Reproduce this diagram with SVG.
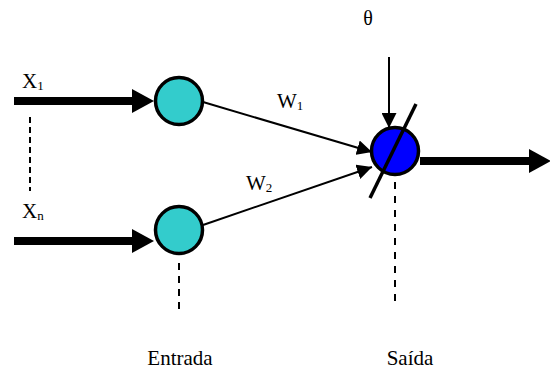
<svg xmlns="http://www.w3.org/2000/svg" width="550" height="369" viewBox="0 0 550 369">
<style>
  .lbl { font-family: "Liberation Serif", "Times New Roman", serif; fill: #000; }
  .thick { stroke: #000; stroke-width: 8; fill: none; }
  .thin { stroke: #000; stroke-width: 2; fill: none; }
  .dash { stroke: #000; stroke-width: 2; fill: none; }
  .inode { fill: #33CCCC; stroke: #000; stroke-width: 3.5; }
  .onode { fill: #0000FF; stroke: #000; stroke-width: 3.5; }
</style>
<defs>
  <marker id="bigHead" markerUnits="userSpaceOnUse" markerWidth="22" markerHeight="24" refX="0" refY="12" orient="auto">
    <path d="M0,0 L22,12 L0,24 Z" fill="#000"/>
  </marker>
  <marker id="smallHead" markerUnits="userSpaceOnUse" markerWidth="15" markerHeight="15" refX="15" refY="7.5" orient="auto">
    <path d="M0,0 L15,7.5 L0,15 Z" fill="#000"/>
  </marker>
</defs>
<rect width="550" height="369" fill="#fff"/>
<g id="connectors">
  <line class="thick" x1="14" y1="101" x2="132" y2="101" marker-end="url(#bigHead)"/>
  <line class="thick" x1="14" y1="241" x2="132" y2="241" marker-end="url(#bigHead)"/>
  <line class="thin" x1="203" y1="102" x2="372" y2="152" marker-end="url(#smallHead)"/>
  <line class="thin" x1="203" y1="225" x2="372" y2="167" marker-end="url(#smallHead)"/>
  <line class="thin" x1="389" y1="57" x2="389" y2="128" marker-end="url(#smallHead)"/>
  <line class="thick" x1="420" y1="161" x2="529" y2="161" marker-end="url(#bigHead)"/>
  <line class="dash" x1="30" y1="117" x2="30" y2="191" stroke-dasharray="6 4"/>
  <line class="dash" x1="179" y1="263" x2="179" y2="313" stroke-dasharray="7 6"/>
  <line class="dash" x1="395" y1="182" x2="395" y2="302" stroke-dasharray="7 7"/>
</g>
<g id="input1">
  <circle class="inode" cx="179" cy="101" r="23.5"/>
</g>
<g id="input2">
  <circle class="inode" cx="179" cy="230" r="23.5"/>
</g>
<g id="output">
  <circle class="onode" cx="395" cy="151" r="23.5"/>
  <line x1="416" y1="104" x2="370" y2="198" stroke="#000" stroke-width="3.5"/>
</g>
<g id="labels" font-family="'Liberation Serif', 'Times New Roman', serif">
  <text class="lbl" x="22" y="88" font-size="21">X<tspan font-size="13" dy="2">1</tspan></text>
  <text class="lbl" x="22" y="218" font-size="21">X<tspan font-size="13" dy="2">n</tspan></text>
  <text class="lbl" x="277" y="108" font-size="21">W<tspan font-size="13" dy="2">1</tspan></text>
  <text class="lbl" x="246" y="190" font-size="21">W<tspan font-size="13" dy="2">2</tspan></text>
  <text class="lbl" x="368" y="25" font-size="20" text-anchor="middle">θ</text>
  <text class="lbl" x="180" y="365" font-size="21" text-anchor="middle">Entrada</text>
  <text class="lbl" x="410" y="365" font-size="21" text-anchor="middle">Saída</text>
</g>
</svg>
